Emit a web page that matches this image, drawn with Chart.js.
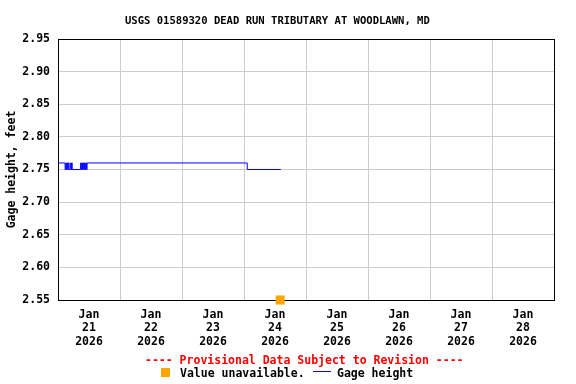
<!DOCTYPE html>
<html>
<head>
<meta charset="utf-8">
<script src="https://cdn.jsdelivr.net/npm/chart.js@4"></script>
<style>
  body { margin: 0; background: #fff; }
  #wrap { position: relative; width: 576px; height: 384px; }
  .txt { position: absolute; font: bold 11.5px "DejaVu Sans Mono", monospace; white-space: pre; line-height: 14px; color: #000; }
</style>
</head>
<body>
<div id="wrap">
  <canvas id="chart" width="576" height="384"></canvas>
  <div class="txt" style="left:125px; top:13px; font-size:10.55px;">USGS 01589320 DEAD RUN TRIBUTARY AT WOODLAWN, MD</div>
  <div class="txt" style="left:145px; top:353px; color:#ff0000;">---- Provisional Data Subject to Revision ----</div>
  <div style="position:absolute; left:161px; top:368px; width:9px; height:9px; background:#ffa500;"></div>
  <div class="txt" style="left:180px; top:366px;">Value unavailable.</div>
  <div style="position:absolute; left:313px; top:371px; width:18px; height:1px; background:#0000ff;"></div>
  <div class="txt" style="left:337px; top:366px;">Gage height</div>
</div>
<script>
// gage height change points (value holds until next time)
const times = [
  '01-21 00:00', '01-21 02:45', '01-21 03:00', '01-21 03:15', '01-21 03:30',
  '01-21 03:45', '01-21 04:00', '01-21 04:15', '01-21 04:45', '01-21 05:00',
  '01-21 05:15', '01-21 05:30', '01-21 08:45', '01-21 09:00', '01-21 09:15',
  '01-21 09:30', '01-21 09:45', '01-21 10:00', '01-21 10:15', '01-21 10:30',
  '01-21 10:45', '01-21 11:00', '01-21 11:15', '01-24 01:15', '01-24 14:15'
];
const gageHeight = [
  2.76, 2.75, 2.76, 2.75, 2.76,
  2.75, 2.76, 2.75, 2.76, 2.75,
  2.76, 2.75, 2.76, 2.75, 2.76,
  2.75, 2.76, 2.75, 2.76, 2.75,
  2.76, 2.75, 2.76, 2.75, 2.75
];
const unavailableTime = '01-24 14:00';
const unavailableValue = 2.55;

const dayLabels = ['Jan 21 2026', 'Jan 22 2026', 'Jan 23 2026', 'Jan 24 2026',
  'Jan 25 2026', 'Jan 26 2026', 'Jan 27 2026', 'Jan 28 2026'];
const gridHours = [0, 24, 48, 72, 96, 120, 144, 168, 192];
const labelHours = [12, 36, 60, 84, 108, 132, 156, 180];
const yTicks = [2.55, 2.60, 2.65, 2.70, 2.75, 2.80, 2.85, 2.90, 2.95];

const base = Date.UTC(2026, 0, 21);
const toHours = t => (Date.parse('2026-' + t.replace(' ', 'T') + ':00Z') - base) / 3600000;

const font = { family: 'DejaVu Sans Mono', weight: 'bold', size: 11.5 };

const frame = {
  id: 'frame',
  beforeDatasetsDraw(chart) {
    const { ctx, chartArea: a } = chart;
    ctx.save();
    ctx.strokeStyle = '#000';
    ctx.lineWidth = 1;
    ctx.strokeRect(Math.round(a.left) + 0.5, Math.round(a.top) + 0.5,
      Math.round(a.right - a.left), Math.round(a.bottom - a.top));
    ctx.restore();
  }
};

new Chart(document.getElementById('chart'), {
  type: 'line',
  data: {
    datasets: [{
      label: 'Gage height',
      data: times.map((t, i) => ({ x: toHours(t), y: gageHeight[i] })),
      borderColor: '#0000ff',
      borderWidth: 1,
      pointRadius: 0,
      stepped: true,
      fill: false
    }, {
      label: 'Value unavailable.',
      data: [{ x: toHours(unavailableTime), y: unavailableValue }],
      showLine: false,
      pointStyle: 'rect',
      pointRadius: 6.4,
      backgroundColor: '#ffa500',
      borderWidth: 0,
      clip: false
    }]
  },
  options: {
    responsive: false,
    animation: false,
    layout: { padding: { top: 39, right: 22, left: 0, bottom: 0 } },
    plugins: { legend: { display: false }, tooltip: { enabled: false } },
    scales: {
      x: {
        type: 'linear',
        min: 0,
        max: 192,
        afterBuildTicks: s => {
          s.ticks = gridHours.concat(labelHours).sort((a, b) => a - b).map(v => ({ value: v }));
        },
        afterFit: s => { s.height = 84; },
        ticks: {
          autoSkip: false,
          maxRotation: 0,
          padding: 8,
          color: '#000',
          font: Object.assign({}, font, { lineHeight: 1.17 }),
          callback: v => {
            const i = labelHours.indexOf(v);
            return i >= 0 ? dayLabels[i].split(' ') : '';
          }
        },
        grid: {
          drawTicks: false,
          color: c => (c.tick && gridHours.includes(c.tick.value)) ? '#cccccc' : 'rgba(0,0,0,0)'
        },
        border: { color: '#000' }
      },
      y: {
        min: 2.55,
        max: 2.95,
        afterBuildTicks: s => { s.ticks = yTicks.map(v => ({ value: v })); },
        afterFit: s => { s.width = 58; },
        ticks: {
          padding: 8,
          color: '#000',
          font: font,
          callback: v => v.toFixed(2)
        },
        grid: { drawTicks: false, color: '#cccccc' },
        border: { color: '#000' },
        title: {
          display: true,
          text: 'Gage height, feet',
          color: '#000',
          font: font,
          padding: { top: 5, bottom: 0 }
        }
      }
    }
  },
  plugins: [frame]
});
</script>
</body>
</html>
